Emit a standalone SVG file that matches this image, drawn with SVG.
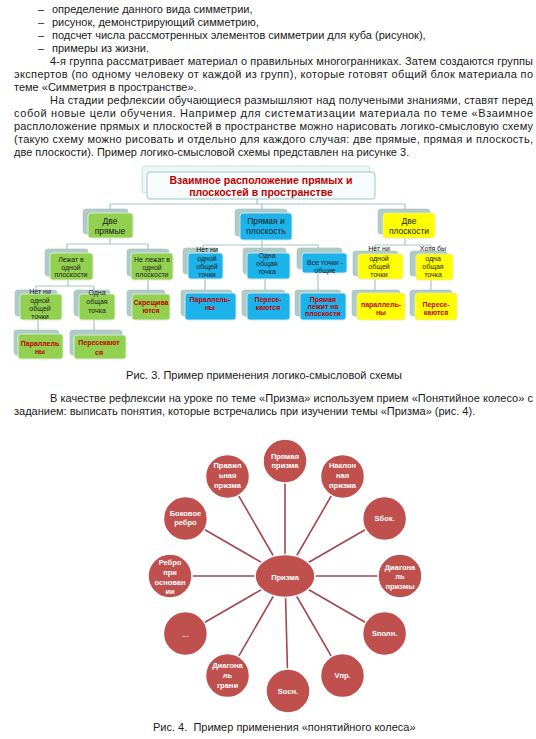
<svg xmlns="http://www.w3.org/2000/svg" width="536" height="739" viewBox="0 0 536 739">
<style>
text{font-family:"Liberation Sans",Arial,sans-serif}
.t{font-size:11px;fill:#1a1a1a}
.bk{fill:#aecbc8;stroke:#a4c3c0;stroke-width:0.6}
.g{fill:#92d050;stroke:#d8ecd0;stroke-width:1}
.b{fill:#1cb3ea;stroke:#c8e6f0;stroke-width:1}
.y{fill:#ffff00;stroke:#ecec9c;stroke-width:1}
.c{fill:none;stroke:#a6c6c4;stroke-width:1.2}
.l1{font-size:8.5px;fill:#1a1a1a;text-anchor:middle}
.l2{font-size:7px;fill:#1a1a1a;text-anchor:middle}
.r{font-size:7px;fill:#c00000;font-weight:bold;text-anchor:middle}
.sp{stroke:#a3484a;stroke-width:1.6}
.w{fill:#c0504d;stroke:#ffffff;stroke-width:1.5}
.wt{font-size:7.5px;fill:#ffffff;font-weight:bold;text-anchor:middle}
</style>

<g id="text-top">
<text class="t" x="38" y="12.5">–</text><text class="t" x="52" y="12.5">определение данного вида симметрии,</text>
<text class="t" x="38" y="25.5">–</text><text class="t" x="52" y="25.5">рисунок, демонстрирующий симметрию,</text>
<text class="t" x="38" y="38.5">–</text><text class="t" x="52" y="38.5">подсчет числа рассмотренных элементов симметрии для куба (рисунок),</text>
<text class="t" x="38" y="51.5">–</text><text class="t" x="52" y="51.5">примеры из жизни.</text>
<text class="t" x="50" y="64.5" textLength="483" lengthAdjust="spacing">4-я группа рассматривает материал о правильных многогранниках. Затем создаются группы</text>
<text class="t" x="14" y="77.5" textLength="519" lengthAdjust="spacing">экспертов (по одному человеку от каждой из групп), которые готовят общий блок материала по</text>
<text class="t" x="14" y="90.5">теме «Симметрия в пространстве».</text>
<text class="t" x="50" y="103.5" textLength="483" lengthAdjust="spacing">На стадии рефлексии обучающиеся размышляют над получеными знаниями, ставят перед</text>
<text class="t" x="14" y="116.5" textLength="519" lengthAdjust="spacing">собой новые цели обучения. Например для систематизации материала по теме «Взаимное</text>
<text class="t" x="14" y="129.5" textLength="519" lengthAdjust="spacing">расплоложение прямых и плоскостей в пространстве можно нарисовать логико-смысловую схему</text>
<text class="t" x="14" y="142.5" textLength="519" lengthAdjust="spacing">(такую схему можно рисовать и отдельно для каждого случая: две прямые, прямая и плоскость,</text>
<text class="t" x="14" y="155.5">две плоскости). Пример логико-смысловой схемы представлен на рисунке 3.</text>
</g>

<g id="fig3-connectors">
<path class="c" d="M257 199V204M110 204H405M110 204V209M262 204V209M405 204V209"/>
<path class="c" d="M110 238V244M67 244H148M67 244V249M148 244V249"/>
<path class="c" d="M262 240V245M203 245H318M203 245V248M262 245V248M318 245V248"/>
<path class="c" d="M405 238V245M375 245H431M375 245V252M431 245V252"/>
<path class="c" d="M68 280V286M36 286H94M36 286V290M94 286V290M148 280V290"/>
<path class="c" d="M38 320V330M94 320V330"/>
<path class="c" d="M205 279V290M265 279V290M318 273V290M375 279V290M431 280V290"/>
</g>

<g id="n-title">
<rect class="bk" x="142" y="166" width="228" height="27" rx="3" style="fill:#eef6f6;stroke:#a8cccc"/>
<rect x="147" y="172" width="228" height="27" rx="3" fill="#f6fbfb" stroke="#9cc8c8" stroke-width="1"/>
<text x="261" y="184" font-size="10.5" font-weight="bold" fill="#c00000" text-anchor="middle">Взаимное расположение прямых и</text>
<text x="261" y="196" font-size="10.5" font-weight="bold" fill="#c00000" text-anchor="middle">плоскостей в пространстве</text>
</g>

<g id="n-dve-pryamye">
<rect class="bk" x="83" y="209" width="45" height="25" rx="3"/>
<rect class="g" x="88" y="213" width="45" height="25" rx="3"/>
<text class="l1" x="110" y="224">Две</text><text class="l1" x="110" y="234">прямые</text>
</g>
<g id="n-pryamaya-plosk">
<rect class="bk" x="235" y="209" width="52" height="27" rx="3"/>
<rect class="b" x="240" y="213" width="52" height="27" rx="3"/>
<text class="l1" x="266" y="224">Прямая и</text><text class="l1" x="266" y="234">плоскость</text>
</g>
<g id="n-dve-plosk">
<rect class="bk" x="378" y="209" width="52" height="25" rx="3"/>
<rect class="y" x="383" y="213" width="52" height="25" rx="3"/>
<text class="l1" x="409" y="224">Две</text><text class="l1" x="409" y="234">плоскости</text>
</g>

<g id="n-lezhat">
<rect class="bk" x="45" y="249" width="43" height="27" rx="3"/>
<rect class="g" x="50" y="253" width="43" height="27" rx="3"/>
<text class="l2" x="71" y="261.5">Лежат в</text><text class="l2" x="71" y="269.5">одной</text><text class="l2" x="71" y="277">плоскости</text>
</g>
<g id="n-ne-lezhat">
<rect class="bk" x="127" y="249" width="42" height="27" rx="3"/>
<rect class="g" x="131" y="253" width="42" height="27" rx="3"/>
<text class="l2" x="152" y="261.5">Не лежат в</text><text class="l2" x="152" y="269.5">одной</text><text class="l2" x="152" y="277">плоскости</text>
</g>
<g id="n-b-net">
<rect class="bk" x="183" y="248" width="35" height="26" rx="3"/>
<rect class="b" x="188" y="253" width="35" height="26" rx="3"/>
<text class="l2" x="207" y="251.5">Нет ни</text><text class="l2" x="207" y="260.5">одной</text><text class="l2" x="207" y="268.5">общей</text><text class="l2" x="207" y="276.5">точки</text>
</g>
<g id="n-b-odna">
<rect class="bk" x="243" y="248" width="43" height="26" rx="3"/>
<rect class="b" x="247" y="253" width="43" height="26" rx="3"/>
<text class="l2" x="267" y="257.5">Одна</text><text class="l2" x="267" y="265.5">общая</text><text class="l2" x="267" y="273.5">точка</text>
</g>
<g id="n-b-vse">
<rect class="bk" x="297" y="248" width="45" height="21" rx="3"/>
<rect class="b" x="302" y="253" width="45" height="20" rx="3"/>
<text class="l2" x="325" y="265">Все точки -</text><text class="l2" x="325" y="272.5">общие</text>
</g>
<g id="n-y-net">
<rect class="bk" x="353" y="251" width="45" height="25" rx="3"/>
<rect class="y" x="358" y="254" width="45" height="25" rx="3"/>
<text class="l2" x="379" y="251">Нет ни</text><text class="l2" x="379" y="260.5">одной</text><text class="l2" x="379" y="268.5">общей</text><text class="l2" x="379" y="276.5">точки</text>
</g>
<g id="n-y-hotya">
<rect class="bk" x="410" y="251" width="37" height="25" rx="3"/>
<rect class="y" x="416" y="254" width="37" height="26" rx="3"/>
<text class="l2" x="433" y="251">Хотя бы</text><text class="l2" x="433" y="260.5">одна</text><text class="l2" x="433" y="268.5">общая</text><text class="l2" x="433" y="276.5">точка</text>
</g>

<g id="n-g-net">
<rect class="bk" x="15" y="290" width="42" height="26" rx="3"/>
<rect class="g" x="20" y="294" width="42" height="26" rx="3"/>
<text class="l2" x="40" y="293.5">Нет ни</text><text class="l2" x="40" y="302.5">одной</text><text class="l2" x="40" y="310.5">общей</text><text class="l2" x="40" y="318.5">точки</text>
</g>
<g id="n-g-odna">
<rect class="bk" x="74" y="290" width="36" height="26" rx="3"/>
<rect class="g" x="79" y="294" width="36" height="26" rx="3"/>
<text class="l2" x="97" y="294.5">Одна</text><text class="l2" x="97" y="304">общая</text><text class="l2" x="97" y="312.5">точка</text>
</g>
<g id="n-g-skresh">
<rect class="bk" x="127" y="290" width="38" height="26" rx="3"/>
<rect class="g" x="132" y="294" width="38" height="26" rx="3"/>
<text class="r" x="151" y="304.5">Скрещива</text><text class="r" x="151" y="312.5">ются</text>
</g>
<g id="n-g-parall">
<rect class="bk" x="14" y="330" width="45" height="25" rx="3"/>
<rect class="g" x="18" y="334" width="45" height="25" rx="3"/>
<text class="r" x="40" y="345.5">Параллель</text><text class="r" x="40" y="353.5">ны</text>
</g>
<g id="n-g-peres">
<rect class="bk" x="70" y="330" width="52" height="25" rx="3"/>
<rect class="g" x="74" y="335" width="52" height="24" rx="3"/>
<text class="r" x="99" y="344.5">Пересекают</text><text class="r" x="99" y="354.5">ся</text>
</g>
<g id="n-b-parall">
<rect class="bk" x="181" y="290" width="51" height="26" rx="3"/>
<rect class="b" x="185" y="293" width="51" height="27" rx="3"/>
<text class="r" x="210" y="301.5">Параллель-</text><text class="r" x="210" y="309.5">ны</text>
</g>
<g id="n-b-peres">
<rect class="bk" x="242" y="290" width="43" height="26" rx="3"/>
<rect class="b" x="247" y="293" width="43" height="27" rx="3"/>
<text class="r" x="268" y="301.5">Пересе-</text><text class="r" x="268" y="309.5">каются</text>
</g>
<g id="n-b-lezhit">
<rect class="bk" x="295" y="290" width="46" height="26" rx="3"/>
<rect class="b" x="300" y="293" width="46" height="27" rx="3"/>
<text class="r" x="323" y="301.5">Прямая</text><text class="r" x="323" y="308.5">лежит на</text><text class="r" x="323" y="315.5">плоскости</text>
</g>
<g id="n-y-parall">
<rect class="bk" x="352" y="290" width="48" height="26" rx="3"/>
<rect class="y" x="357" y="293" width="48" height="27" rx="3"/>
<text class="r" x="381" y="306.5">параллель-</text><text class="r" x="381" y="314.5">ны</text>
</g>
<g id="n-y-peres">
<rect class="bk" x="410" y="290" width="42" height="26" rx="3"/>
<rect class="y" x="415" y="293" width="42" height="27" rx="3"/>
<text class="r" x="436" y="306.5">Пересе-</text><text class="r" x="436" y="314.5">каются</text>
</g>

<g id="text-mid">
<text class="t" x="264" y="379" text-anchor="middle">Рис. 3. Пример применения логико-смысловой схемы</text>
<text class="t" x="50" y="402" textLength="483" lengthAdjust="spacing">В качестве рефлексии на уроке по теме «Призма» используем прием «Понятийное колесо» с</text>
<text class="t" x="14" y="415">заданием: выписать понятия, которые встречались при изучении темы «Призма» (рис. 4).</text>
</g>

<g id="wheel-connectors">
<line class="sp" x1="285" y1="576" x2="285" y2="461"/>
<line class="sp" x1="285" y1="576" x2="342.5" y2="476.4"/>
<line class="sp" x1="285" y1="576" x2="384.6" y2="518.5"/>
<line class="sp" x1="285" y1="576" x2="400" y2="576"/>
<line class="sp" x1="285" y1="576" x2="384.6" y2="633.5"/>
<line class="sp" x1="285" y1="576" x2="342.5" y2="675.6"/>
<line class="sp" x1="285" y1="576" x2="288" y2="691"/>
<line class="sp" x1="285" y1="576" x2="227.5" y2="675.6"/>
<line class="sp" x1="285" y1="576" x2="185.4" y2="633.5"/>
<line class="sp" x1="285" y1="576" x2="170" y2="576"/>
<line class="sp" x1="285" y1="576" x2="185.4" y2="518.5"/>
<line class="sp" x1="285" y1="576" x2="227.5" y2="476.4"/>
</g>

<g id="w-center"><ellipse class="w" cx="285" cy="576" rx="30" ry="21.5"/><text class="wt" x="285" y="579.5" font-size="9.5">Призма</text></g>
<g id="w-pryamaya"><circle class="w" cx="285" cy="461" r="22"/><text class="wt" x="285" y="458.5">Прямая</text><text class="wt" x="285" y="467.5">призма</text></g>
<g id="w-naklon"><circle class="w" cx="342.5" cy="476.4" r="22"/><text class="wt" x="342.5" y="468">Наклон</text><text class="wt" x="342.5" y="478">ная</text><text class="wt" x="342.5" y="488">призма</text></g>
<g id="w-sbok"><circle class="w" cx="384.6" cy="518.5" r="22"/><text class="wt" x="384.6" y="521" font-size="6.5">Sбок.</text></g>
<g id="w-diag-pr"><circle class="w" cx="400" cy="576" r="22"/><text class="wt" x="400" y="569.5">Диагона</text><text class="wt" x="400" y="579">ль</text><text class="wt" x="400" y="588.5">призмы</text></g>
<g id="w-spoln"><circle class="w" cx="384.6" cy="633.5" r="22"/><text class="wt" x="384.6" y="636">Sполн.</text></g>
<g id="w-vpr"><circle class="w" cx="342.5" cy="675.6" r="22"/><text class="wt" x="342.5" y="678">Vпр.</text></g>
<g id="w-sosn"><circle class="w" cx="288" cy="691" r="22"/><text class="wt" x="288" y="694">Sосн.</text></g>
<g id="w-diag-gr"><circle class="w" cx="227.5" cy="675.6" r="22"/><text class="wt" x="227.5" y="667.5">Диагона</text><text class="wt" x="227.5" y="677.5">ль</text><text class="wt" x="227.5" y="687.5">грани</text></g>
<g id="w-dots"><circle class="w" cx="185.4" cy="633.5" r="22"/><text class="wt" x="185.4" y="637" font-size="9">...</text></g>
<g id="w-rebro-osn"><circle class="w" cx="170" cy="576" r="22"/><text class="wt" x="170" y="564.5">Ребро</text><text class="wt" x="170" y="574.5">при</text><text class="wt" x="170" y="584.5">основан</text><text class="wt" x="170" y="594">ии</text></g>
<g id="w-bok-rebro"><circle class="w" cx="185.4" cy="518.5" r="22"/><text class="wt" x="185.4" y="515.5">Боковое</text><text class="wt" x="185.4" y="525">ребро</text></g>
<g id="w-pravil"><circle class="w" cx="227.5" cy="476.4" r="22"/><text class="wt" x="227.5" y="468">Правил</text><text class="wt" x="227.5" y="478">ьная</text><text class="wt" x="227.5" y="488">призма</text></g>

<g id="text-bottom">
<text class="t" x="153" y="731" xml:space="preserve">Рис. 4.  Пример применения «понятийного колеса»</text>
</g>
</svg>
